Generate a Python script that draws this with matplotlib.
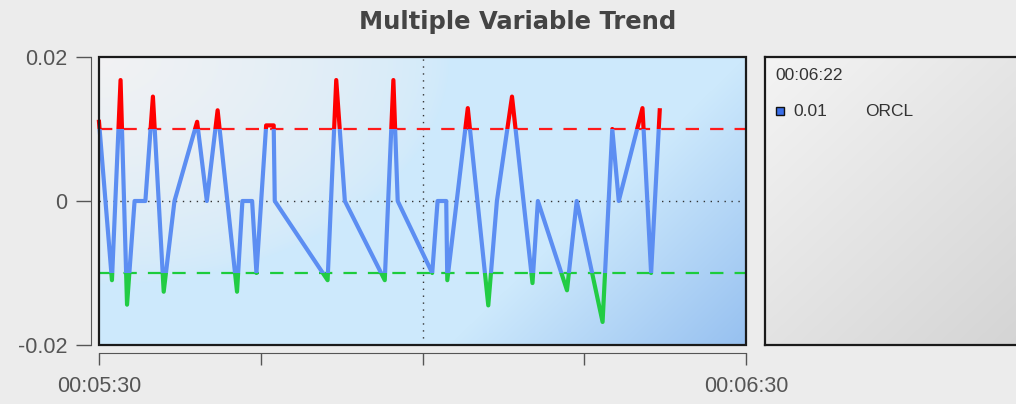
import numpy as np
import matplotlib
matplotlib.use('Agg')
import matplotlib.pyplot as plt
from matplotlib.patches import Rectangle

plt.rcParams['font.family'] = ['Liberation Sans', 'DejaVu Sans']

# seconds after 00:05:30 and the ORCL values
t_sec = [0.0, 1.2, 2.0, 2.6, 3.3, 4.3, 5.0, 6.0, 7.0, 9.1, 10.0, 11.0, 11.9, 12.8,
         13.3, 14.2, 14.6, 15.5, 16.2, 16.3, 21.2, 22.0, 22.8, 26.5, 27.3, 27.7,
         30.9, 31.4, 32.2, 32.3, 34.2, 36.1, 36.9, 38.3, 40.2, 40.7, 43.4, 44.3,
         46.7, 47.6, 48.2, 50.4, 51.2, 52.0]
orcl = [0.011, -0.011, 0.0168, -0.0144, 0.0, 0.0, 0.0145, -0.0126, 0.0, 0.011,
        0.0, 0.0126, 0.0, -0.0126, 0.0, 0.0, -0.01, 0.0105, 0.0105, 0.0,
        -0.011, 0.0168, 0.0, -0.011, 0.0168, 0.0, -0.01, 0.0, 0.0, -0.011,
        0.0129, -0.0145, 0.0, 0.0145, -0.0114, 0.0, -0.0124, 0.0, -0.0168, 0.01,
        0.0, 0.0129, -0.01, 0.0126]

upper_limit = 0.01
lower_limit = -0.01
y_ticks = [-0.02, 0, 0.02]
y_labels = ['-0.02', '0', '0.02']
x_ticks = [0, 15, 30, 45, 60]
x_labels = ['00:05:30', '', '', '', '00:06:30']

W, H = 1016, 404
fig = plt.figure(figsize=(W / 100, H / 100), dpi=100)
fig.patch.set_facecolor('#ececec')

# plot area
ax = fig.add_axes([99 / W, 1 - 345 / H, (746 - 99) / W, (345 - 57) / H])
ax.set_xlim(0, 60)
ax.set_ylim(-0.02, 0.02)

# background: light blue with a pale top-left and darker bottom-right wedge
pw, ph = 647, 288
u, v = np.meshgrid(np.arange(pw), np.arange(ph))
base = np.array([205, 233, 252]) / 255
white = np.array([242, 242, 243]) / 255
dark = np.array([150, 192, 240]) / 255
w = np.clip(1 - np.hypot(u / 1.4, v * 1.1) / 250, 0, 1) ** 0.6
img = base * (1 - w[..., None]) + white * w[..., None]
s = np.clip((u + 1.03 * v - 646) / 300, 0, 1)
img = img * (1 - s[..., None]) + dark * s[..., None]
ax.imshow(img, extent=[0, 60, -0.02, 0.02], aspect='auto', origin='upper', zorder=0)

# reference lines
ax.axhline(0, color='#333333', lw=1, ls=(0, (1, 4)), zorder=1)
ax.axvline(30, color='#333333', lw=1, ls=(0, (1, 4)), zorder=1)
ax.axhline(upper_limit, color='#ff1a1a', lw=1.6, ls=(0, (6, 5)), zorder=1)
ax.axhline(lower_limit, color='#1ccc3c', lw=1.6, ls=(0, (6, 5)), zorder=1)

# series, coloured by band
bands = [
    ('#ff0000', upper_limit, 1.0),
    ('#22cc44', -1.0, lower_limit),
    ('#5c8ef2', lower_limit, upper_limit),
]
for color, lo, hi in bands:
    line, = ax.plot(t_sec, orcl, color=color, lw=3, solid_joinstyle='round', zorder=3)
    clip = Rectangle((-5, lo), 70, hi - lo, transform=ax.transData)
    line.set_clip_path(clip)

# frame and detached axes
for side in ['top', 'right']:
    ax.spines[side].set_visible(False)
ax.spines['left'].set_position(('outward', 5.8))
ax.spines['bottom'].set_position(('outward', 5.8))
ax.spines['left'].set_color('#555555')
ax.spines['bottom'].set_color('#555555')
ax.add_patch(Rectangle((0, 0), 1, 1, transform=ax.transAxes, fill=False,
                       ec='#1a1a1a', lw=1.6, clip_on=False, zorder=10))

ax.set_yticks(y_ticks)
ax.set_yticklabels(y_labels)
ax.set_xticks(x_ticks)
ax.set_xticklabels(x_labels)
ax.tick_params(axis='y', length=11, width=1, color='#555555', pad=6,
               labelsize=15.5, labelcolor='#555555')
ax.tick_params(axis='x', length=8.5, width=1, color='#555555', pad=8,
               labelsize=15.5, labelcolor='#555555')

fig.text(518 / W, 1 - 22 / H, 'Multiple Variable Trend', ha='center', va='center',
         fontsize=17.5, fontweight='bold', color='#444444', family='DejaVu Sans')

# legend panel
lg = fig.add_axes([765 / W, 1 - 345 / H, 260 / W, 288 / H])
lg.set_xlim(0, 260)
lg.set_ylim(288, 0)
gu, gv = np.meshgrid(np.linspace(0, 1, 260), np.linspace(0, 1, 288))
g = np.clip((gu * 0.6 + gv * 0.7) / 1.3, 0, 1)
gimg = np.array([244, 244, 244]) / 255 * (1 - g[..., None]) + np.array([212, 212, 212]) / 255 * g[..., None]
lg.imshow(gimg, extent=[0, 260, 288, 0], aspect='auto', zorder=0)
lg.set_xticks([])
lg.set_yticks([])
for sp in lg.spines.values():
    sp.set_color('#1a1a1a')
    sp.set_linewidth(1.6)

lg.text(10, 19, '00:06:22', fontsize=12.5, color='#333333', va='center')
lg.add_patch(Rectangle((11, 50), 8, 8, fc='#3a6ee8', ec='#111111', lw=1))
lg.text(28, 55, '0.01', fontsize=12.5, color='#333333', va='center')
lg.text(100, 55, 'ORCL', fontsize=12.5, color='#333333', va='center')

fig.savefig('out.png', dpi=100, facecolor=fig.get_facecolor())
